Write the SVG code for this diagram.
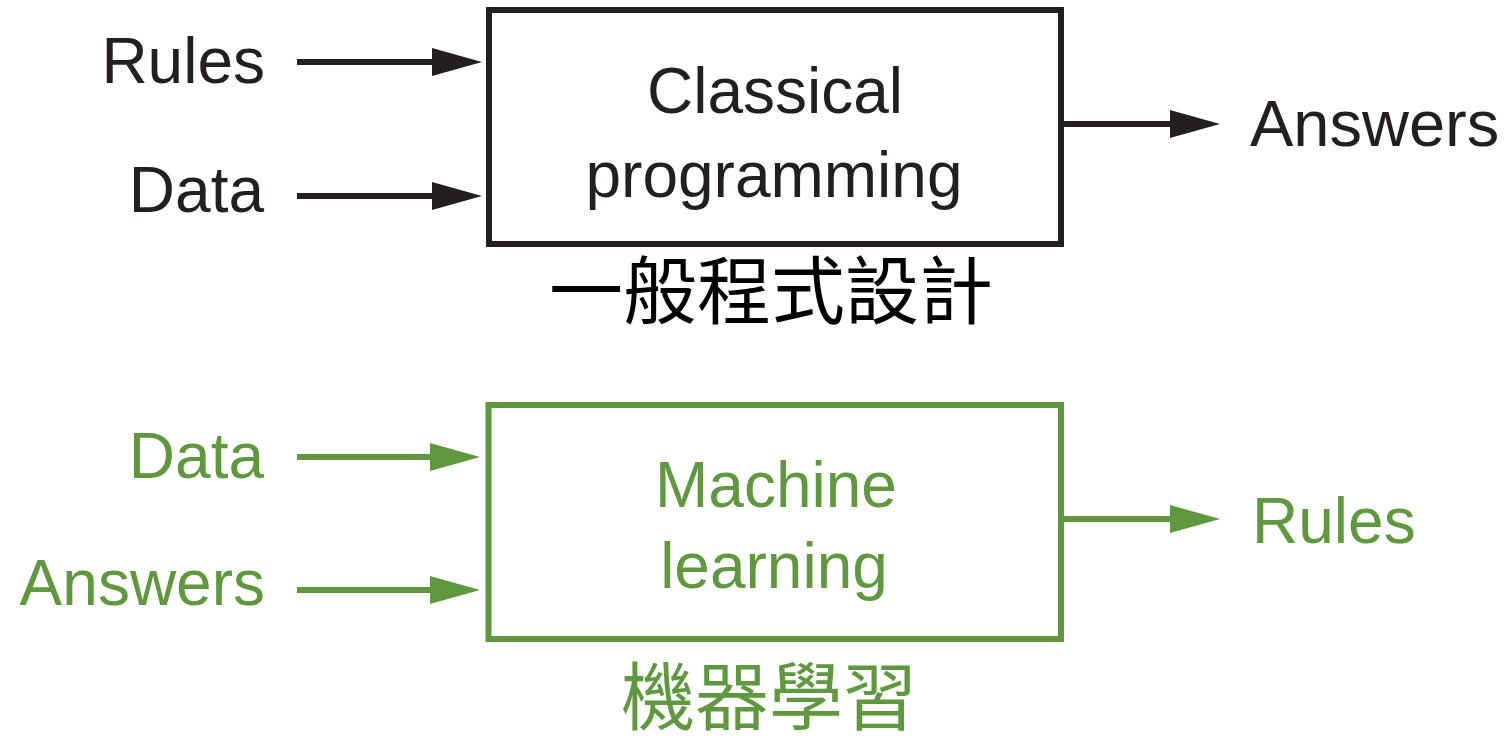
<svg xmlns="http://www.w3.org/2000/svg" width="1506" height="736" viewBox="0 0 1506 736">
<defs>
<style>
.t{font-family:"Liberation Sans",Arial,sans-serif;font-size:64px}
.cjk{font-family:"Noto Sans CJK TC","Noto Sans CJK SC",sans-serif;font-size:74px}
.k{fill:#231f20}
.g{fill:#5f983f}
.kb{fill:none;stroke:#231f20;stroke-width:6}
.gb{fill:none;stroke:#5f983f;stroke-width:6}
</style>
<marker id="ak" markerUnits="userSpaceOnUse" markerWidth="50" markerHeight="28" refX="0" refY="14" orient="auto">
<path d="M0,0 L50,14 L0,28 z" fill="#231f20"/>
</marker>
<marker id="ag" markerUnits="userSpaceOnUse" markerWidth="50" markerHeight="28" refX="0" refY="14" orient="auto">
<path d="M0,0 L50,14 L0,28 z" fill="#5f983f"/>
</marker>
</defs>
<rect width="1506" height="736" fill="#ffffff"/>

<g id="connectors">
<line class="kb" x1="297" y1="62" x2="432" y2="62" marker-end="url(#ak)"/>
<line class="kb" x1="297" y1="196" x2="432" y2="196" marker-end="url(#ak)"/>
<line class="kb" x1="1064" y1="124" x2="1170" y2="124" marker-end="url(#ak)"/>
<line class="gb" x1="297" y1="457" x2="430" y2="457" marker-end="url(#ag)"/>
<line class="gb" x1="297" y1="590" x2="430" y2="590" marker-end="url(#ag)"/>
<line class="gb" x1="1064" y1="519" x2="1170" y2="519" marker-end="url(#ag)"/>
</g>

<g id="classical">
<rect class="kb" x="489" y="10" width="572" height="234"/>
<text class="t k" x="775" y="113" text-anchor="middle">Classical</text>
<text class="t k" x="774" y="197" text-anchor="middle">programming</text>
<text class="cjk" x="771" y="318" text-anchor="middle" fill="#000000">一般程式設計</text>
</g>

<g id="ml">
<rect class="gb" x="488.5" y="405" width="572.5" height="234"/>
<text class="t g" x="776" y="507" text-anchor="middle">Machine</text>
<text class="t g" x="774" y="588" text-anchor="middle">learning</text>
<text class="cjk g" x="769" y="724" text-anchor="middle" style="font-size:74px">機器學習</text>
</g>

<g id="in-rules"><text class="t k" x="265" y="83" text-anchor="end">Rules</text></g>
<g id="in-data"><text class="t k" x="264" y="212" text-anchor="end">Data</text></g>
<g id="out-answers"><text class="t k" x="1250" y="146" style="font-size:65px">Answers</text></g>
<g id="ml-data"><text class="t g" x="264" y="478" text-anchor="end">Data</text></g>
<g id="ml-answers"><text class="t g" x="265" y="605" text-anchor="end">Answers</text></g>
<g id="ml-rules"><text class="t g" x="1252" y="543">Rules</text></g>
</svg>
